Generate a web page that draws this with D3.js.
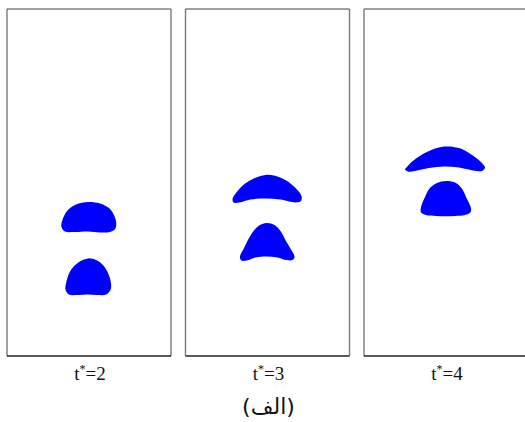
<!DOCTYPE html>
<html>
<head>
<meta charset="utf-8">
<script src="https://cdn.jsdelivr.net/npm/d3@7"></script>
<style>
  body { margin: 0; background: #fff; }
  svg { display: block; }
  .tlabel { font-family: "Liberation Serif", "DejaVu Serif", serif; }
  .caption { font-family: "DejaVu Sans", sans-serif; }
</style>
</head>
<body>
<div id="chart"></div>
<script>
// dimensionless time of each snapshot
const times = [2, 3, 4];
const caption = "(الف)";

// bubble outlines, x in panel widths, y in panel widths from the bottom
const t2Upper = [[0.494,0.939],[0.567,0.930],[0.622,0.902],[0.652,0.860],[0.666,0.811],[0.659,0.774],[0.628,0.756],[0.567,0.753],[0.494,0.759],[0.415,0.756],[0.354,0.759],[0.332,0.787],[0.338,0.829],[0.366,0.884],[0.421,0.924]];
const t2Lower = [[0.494,0.595],[0.543,0.585],[0.585,0.555],[0.616,0.506],[0.634,0.445],[0.631,0.402],[0.604,0.375],[0.549,0.372],[0.494,0.375],[0.433,0.372],[0.378,0.375],[0.357,0.402],[0.363,0.457],[0.390,0.524],[0.439,0.573]];
const t3Upper = [[0.287,0.957],[0.323,1.012],[0.378,1.061],[0.488,1.104],[0.591,1.082],[0.665,1.030],[0.707,0.976],[0.704,0.945],[0.671,0.936],[0.579,0.954],[0.488,0.960],[0.396,0.954],[0.329,0.936],[0.293,0.936]];
const t3Lower = [[0.494,0.811],[0.543,0.799],[0.579,0.762],[0.616,0.695],[0.652,0.634],[0.665,0.604],[0.652,0.585],[0.616,0.585],[0.561,0.601],[0.494,0.607],[0.427,0.601],[0.372,0.582],[0.341,0.582],[0.332,0.604],[0.360,0.665],[0.402,0.744],[0.445,0.793]];
const t4Upper = [[0.256,1.146],[0.305,1.195],[0.390,1.247],[0.488,1.277],[0.579,1.268],[0.659,1.226],[0.713,1.183],[0.738,1.149],[0.720,1.128],[0.665,1.131],[0.579,1.149],[0.488,1.155],[0.396,1.146],[0.311,1.128],[0.268,1.125],[0.250,1.137]];
const t4Lower = [[0.500,1.067],[0.561,1.055],[0.598,1.018],[0.628,0.957],[0.652,0.902],[0.649,0.875],[0.616,0.860],[0.555,0.854],[0.500,0.852],[0.439,0.854],[0.378,0.860],[0.348,0.875],[0.348,0.909],[0.372,0.970],[0.402,1.024],[0.445,1.055]];

const bubbles = [
  [t2Upper, t2Lower],
  [t3Upper, t3Lower],
  [t4Upper, t4Lower]
];

const width = 525, height = 422;
const panelTop = 9, panelH = 347;

const svg = d3.select("#chart").append("svg")
  .attr("width", width)
  .attr("height", height);

const band = d3.scaleBand()
  .domain(times)
  .range([7, 528])
  .paddingInner(0.0812);

const panelW = band.bandwidth();

const x = d3.scaleLinear().domain([0, 1]).range([0, panelW]);
const y = d3.scaleLinear().domain([0, panelH / panelW]).range([panelH, 0]);

const outline = d3.line()
  .x(d => x(d[0]))
  .y(d => y(d[1]))
  .curve(d3.curveCatmullRomClosed.alpha(0.5));

times.forEach((t, i) => {
  const g = svg.append("g")
    .attr("transform", `translate(${band(t)},${panelTop})`);

  g.selectAll("path.bubble")
    .data(bubbles[i])
    .join("path")
    .attr("class", "bubble")
    .attr("d", outline)
    .attr("fill", "#0000ff");

  // frame: grey sides, dark top and bottom
  g.append("line").attr("x1", 0).attr("x2", 0).attr("y1", 0).attr("y2", panelH)
    .attr("stroke", "#7a7a7a").attr("stroke-width", 1.4);
  g.append("line").attr("x1", panelW).attr("x2", panelW).attr("y1", 0).attr("y2", panelH)
    .attr("stroke", "#7a7a7a").attr("stroke-width", 1.4);
  g.append("line").attr("x1", 0).attr("x2", panelW).attr("y1", 0).attr("y2", 0)
    .attr("stroke", "#444").attr("stroke-width", 1.2);
  g.append("line").attr("x1", 0).attr("x2", panelW).attr("y1", panelH).attr("y2", panelH)
    .attr("stroke", "#222").attr("stroke-width", 1.4);

  const label = g.append("text")
    .attr("class", "tlabel")
    .attr("x", panelW / 2 + 1)
    .attr("y", panelH + 24)
    .attr("text-anchor", "middle")
    .attr("font-size", 19)
    .attr("fill", "#111");
  label.append("tspan").text("t");
  label.append("tspan").attr("font-size", 12).attr("dy", -7).text("*");
  label.append("tspan").attr("dy", 7).text("=" + t);
});

svg.append("text")
  .attr("class", "caption")
  .attr("x", band(times[1]) + panelW / 2 + 1)
  .attr("y", 414)
  .attr("text-anchor", "middle")
  .attr("font-size", 22)
  .attr("fill", "#111")
  .text(caption);
</script>
</body>
</html>
